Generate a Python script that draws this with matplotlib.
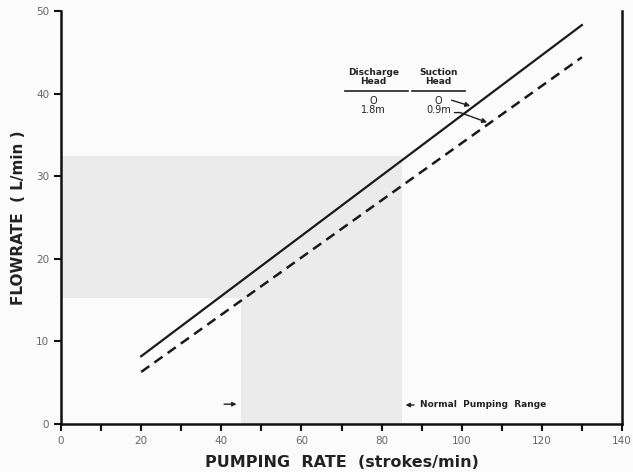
import matplotlib
matplotlib.use("Agg")
import matplotlib.pyplot as plt
from matplotlib.patches import Polygon

# Data
pump_rate = [20, 130]
flow_discharge0 = [8.2, 48.3]      # Discharge head 0, suction head 0 (solid)
flow_discharge18 = [6.3, 44.4]     # Discharge head 1.8 m, suction head 0.9 m (dashed)
normal_pump_range = [45, 85]       # strokes/min
normal_flow_range = [15.3, 32.4]   # L/min
x_ticks = list(range(0, 141, 10))
x_labels = [str(v) if v % 20 == 0 else "" for v in x_ticks]
y_ticks = [0, 10, 20, 30, 40, 50]

fig = plt.figure(figsize=(6.33, 4.72), dpi=100)
fig.patch.set_facecolor("#fbfbfb")
ax = fig.add_axes([0.0964, 0.1017, 0.8862, 0.875])
ax.set_facecolor("#fbfbfb")

ax.set_xlim(0, 140)
ax.set_ylim(0, 50)

# Shaded L-shaped region
x0, x1 = normal_pump_range
y0, y1 = normal_flow_range
verts = [(0, y0), (x0, y0), (x0, 0), (x1, 0), (x1, y1), (0, y1)]
ax.add_patch(Polygon(verts, closed=True, facecolor="#ebebeb", edgecolor="none", zorder=0))

ax.plot(pump_rate, flow_discharge0, color="#1a1a1a", lw=1.6, zorder=3)
ax.plot(pump_rate, flow_discharge18, color="#1a1a1a", lw=1.8, ls=(0, (4, 2.5)), zorder=3)

# Spines
for s in ["left", "bottom", "right"]:
    ax.spines[s].set_linewidth(1.8)
    ax.spines[s].set_color("#111111")
ax.spines["top"].set_visible(False)

ax.set_xticks(x_ticks)
ax.set_xticklabels(x_labels)
ax.set_yticks(y_ticks)
ax.tick_params(axis="both", direction="out", length=5, width=1.5, color="#111111",
               labelsize=7.5, labelcolor="#666666")
ax.tick_params(axis="x", pad=4)

ax.set_xlabel("PUMPING  RATE  (strokes/min)", fontsize=11.5, fontweight="bold",
              color="#222222", labelpad=6)
ax.set_ylabel("FLOWRATE  ( L/min )", fontsize=11, fontweight="bold",
              color="#222222", labelpad=7)

# Legend-like table annotation
tc = "#222222"
ax.text(78.0, 42.0, "Discharge\nHead", ha="center", va="center", fontsize=6.5,
        fontweight="bold", color=tc, linespacing=0.95)
ax.text(94.2, 42.0, "Suction\nHead", ha="center", va="center", fontsize=6.5,
        fontweight="bold", color=tc, linespacing=0.95)
ax.plot([70.9, 86.6], [40.3, 40.3], color=tc, lw=1.2)
ax.plot([87.6, 100.8], [40.3, 40.3], color=tc, lw=1.2)
ax.text(78.0, 38.55, "O\n1.8m", ha="center", va="center", fontsize=7,
        color=tc, linespacing=0.95)
ax.text(94.2, 38.55, "O\n0.9m", ha="center", va="center", fontsize=7,
        color=tc, linespacing=0.95)
ax.annotate("", xy=(102.8, 38.4), xytext=(96.8, 39.3),
            arrowprops=dict(arrowstyle="-|>", color=tc, lw=1.0, mutation_scale=7))
ax.annotate("", xy=(107.0, 36.4), xytext=(97.5, 37.7),
            arrowprops=dict(arrowstyle="-|>", color=tc, lw=1.0, mutation_scale=7,
                            connectionstyle="angle,angleA=0,angleB=160,rad=0"))

# Normal pumping range arrows
ax.annotate("", xy=(44.5, 2.4), xytext=(40.0, 2.4),
            arrowprops=dict(arrowstyle="-|>", color=tc, lw=1.0, mutation_scale=6))
ax.annotate("", xy=(85.3, 2.3), xytext=(88.8, 2.3),
            arrowprops=dict(arrowstyle="-|>", color=tc, lw=1.0, mutation_scale=6))
ax.text(89.5, 2.3, "Normal  Pumping  Range", ha="left", va="center", fontsize=6.5,
        fontweight="bold", color=tc)

fig.savefig("out.png", dpi=100, facecolor=fig.get_facecolor())
